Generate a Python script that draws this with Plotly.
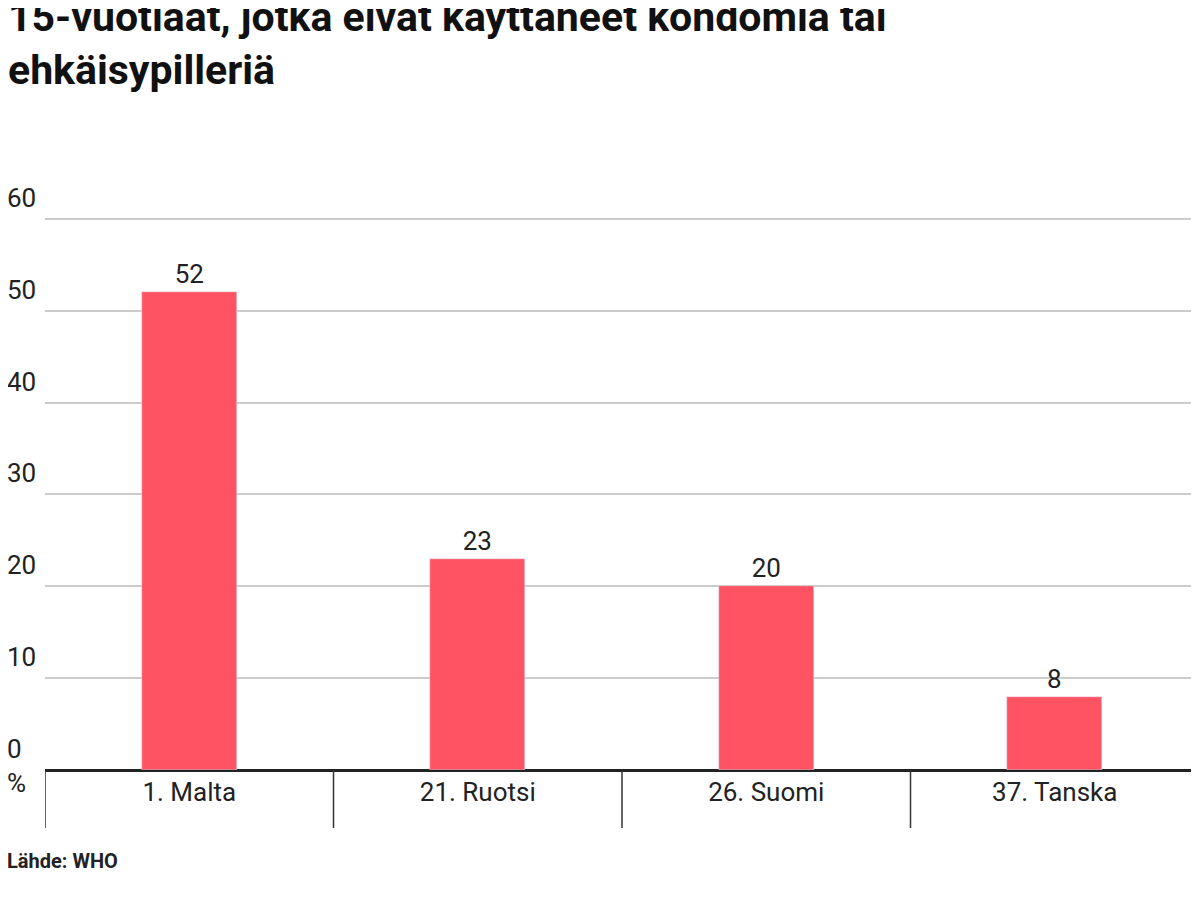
import plotly.graph_objects as go

countries = ["1. Malta", "21. Ruotsi", "26. Suomi", "37. Tanska"]
values = [52, 23, 20, 8]
y_ticks = [0, 10, 20, 30, 40, 50, 60]

fig = go.Figure()
fig.add_trace(go.Bar(x=list(range(len(countries))), y=values, width=0.33,
                     marker=dict(color="#ff5263"),
                     text=values, textposition="outside", cliponaxis=False,
                     textfont=dict(size=26, color="#222")))

# y tick labels sit above gridlines
for v in y_ticks:
    fig.add_annotation(x=0, xref="paper", xshift=-40, y=v, yref="y",
                       text=str(v), showarrow=False, xanchor="left", yanchor="bottom",
                       yshift=4, font=dict(size=26, color="#222"))

# category separators
for i in range(len(countries)):
    fig.add_shape(type="line", xref="x", yref="paper", x0=i - 0.5, x1=i - 0.5,
                  y0=0, y1=-0.105, line=dict(color="#333", width=1.5))

fig.add_annotation(x=0, xref="paper", xshift=-40, y=-0.055, yref="paper", text="%",
                   showarrow=False, xanchor="left", font=dict(size=26, color="#222"))
fig.add_annotation(x=0, xref="paper", xshift=-40, y=-0.19, yref="paper", text="<b>Lähde: WHO</b>",
                   showarrow=False, xanchor="left", font=dict(size=20, color="#222"))

fig.update_layout(
    width=1191, height=901,
    title=dict(text="<b>15-vuotiaat, jotka eivät käyttäneet kondomia tai<br>ehkäisypilleriä</b>",
               x=0, xref="container", xanchor="left", y=0.975, yref="container", yanchor="top",
               font=dict(size=41, color="#111")),
    font=dict(family="Roboto", color="#222"),
    plot_bgcolor="white", paper_bgcolor="white",
    margin=dict(l=37, r=0, t=209, b=139),
    showlegend=False, bargap=0,
    xaxis=dict(tickmode="array", tickvals=list(range(len(countries))), ticktext=countries,
               range=[-0.5, 3.5], tickfont=dict(size=26, color="#222"),
               showgrid=False, showline=False, ticks="", ticklabelstandoff=4),
    yaxis=dict(range=[0, 60.2], tickvals=y_ticks, showticklabels=False,
               gridcolor="#ccc", gridwidth=1.5, zeroline=True, zerolinecolor="#222",
               zerolinewidth=2.5),
)
fig.write_html("out.html")
